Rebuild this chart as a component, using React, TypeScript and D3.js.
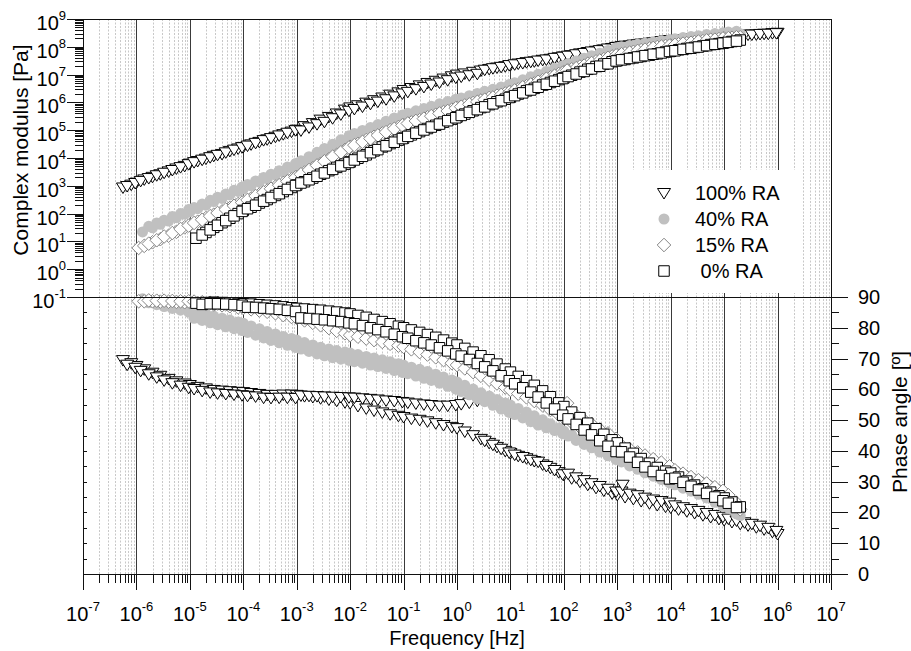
import React, { useEffect, useRef } from 'react';
import * as d3 from 'd3';

// legend order
const seriesLabels = ['100% RA', '40% RA', '15% RA', ' 0% RA'];

// ---- 100% RA (open triangles) ----
const freq100 = [
  5.6e-7, 8e-7,
  1e-6, 1.4e-6, 2e-6, 2.8e-6, 4e-6, 5.6e-6, 8e-6,
  1e-5, 1.4e-5, 2e-5, 2.8e-5, 4e-5, 5.6e-5, 8e-5,
  1e-4, 1.4e-4, 2e-4, 2.8e-4, 4e-4, 5.6e-4, 8e-4,
  1e-3, 1.4e-3, 2e-3, 2.8e-3, 4e-3, 5.6e-3, 8e-3,
  1e-2, 1.4e-2, 2e-2, 2.8e-2, 4e-2, 5.6e-2, 8e-2,
  0.1, 0.14, 0.2, 0.28, 0.4, 0.56, 0.8,
  1, 1.4, 2, 2.8, 4, 5.6, 8,
  10, 14, 20, 28, 40, 56, 80,
  100, 140, 200, 280, 400, 560, 800,
  1e3, 1.4e3, 2e3, 2.8e3, 4e3, 5.6e3, 8e3,
  1e4, 1.4e4, 2e4, 2.8e4, 4e4, 5.6e4, 8e4,
  1e5, 1.4e5, 2e5, 2.8e5, 4e5, 5.6e5, 8e5,
  1e6,
];
const modulus100 = [
  8.7e2, 1.1e3,
  1.3e3, 1.7e3, 2.1e3, 2.6e3, 3.3e3, 4.2e3, 5.2e3,
  6.3e3, 7.8e3, 9.5e3, 1.2e4, 1.4e4, 1.8e4, 2.2e4,
  2.5e4, 3.1e4, 3.8e4, 4.7e4, 5.8e4, 7.2e4, 8.9e4,
  1.05e5, 1.4e5, 1.8e5, 2.4e5, 3.0e5, 4.0e5, 5.5e5,
  6.6e5, 7.9e5, 9.8e5, 1.2e6, 1.5e6, 1.9e6, 2.3e6,
  2.8e6, 3.3e6, 4.1e6, 5.0e6, 6.0e6, 7.2e6, 8.7e6,
  1.0e7, 1.1e7, 1.26e7, 1.4e7, 1.6e7, 1.8e7, 2.0e7,
  2.2e7, 2.5e7, 2.8e7, 3.0e7, 3.4e7, 3.7e7, 4.2e7,
  4.5e7, 5.0e7, 5.8e7, 6.5e7, 7.2e7, 8.1e7, 9.1e7,
  1.0e8, 1.1e8, 1.2e8, 1.3e8, 1.4e8, 1.5e8, 1.7e8,
  1.75e8, 1.8e8, 1.95e8, 2.0e8, 2.1e8, 2.2e8, 2.3e8,
  2.45e8, 2.5e8, 2.6e8, 2.75e8, 2.8e8, 2.95e8, 3.1e8,
  3.2e8,
];
const phase100 = [
  69.5, 68.5,
  67.6, 66.5, 65.4, 64.4, 63.4, 62.6, 61.9,
  61.4, 60.8, 60.3, 59.8, 59.6, 59.4, 59.2,
  59.1, 58.8, 58.5, 58.2, 58.2, 58.3, 58.3,
  58.2, 57.8, 57.5, 57.1, 56.7, 56.3, 55.8,
  55.5, 54.6, 53.8, 53.1, 52.5, 51.9, 51.4,
  51.0, 50.5, 50.1, 49.6, 49.0, 48.4, 47.8,
  47.4, 46.3, 45.1, 43.9, 42.6, 41.3, 40.0,
  39.3, 38.4, 37.6, 36.7, 35.6, 34.5, 33.1,
  32.2, 31.1, 30.0, 29.0, 28.0, 27.1, 26.2,
  25.7, 25.0, 24.4, 23.7, 23.0, 22.4, 21.9,
  21.6, 21.0, 20.4, 19.8, 19.1, 18.5, 17.9,
  17.5, 16.9, 16.3, 15.8, 15.2, 14.5, 13.7,
  13.0,
];
// second, overlapping isotherm set of 100% RA
const freq100b = [
  6.7e-7, 9.5e-7,
  1.2e-6, 1.7e-6, 2.4e-6, 3.3e-6, 4.7e-6, 6.7e-6, 9.5e-6,
  1.2e-5, 1.7e-5, 2.4e-5, 3.3e-5, 4.7e-5, 6.7e-5, 9.5e-5,
  1.2e-4, 1.7e-4, 2.4e-4, 3.3e-4, 4.7e-4, 6.7e-4, 9.5e-4,
  1.2e-3, 1.7e-3, 2.4e-3, 3.3e-3, 4.7e-3, 6.7e-3, 9.5e-3,
  1.2e-2, 1.7e-2, 2.4e-2, 3.3e-2, 4.7e-2, 6.7e-2, 9.5e-2,
  0.12, 0.17, 0.24, 0.33, 0.47, 0.67, 0.95,
  1.2, 1.7, 2.4, 3.3, 4.7, 6.7, 9.5,
  12, 17, 24, 33, 47, 67, 95,
  120, 170, 240, 330, 470, 670, 950,
  1.2e3, 1.7e3, 2.4e3, 3.3e3, 4.7e3, 6.7e3, 9.5e3,
  1.2e4, 1.7e4, 2.4e4, 3.3e4, 4.7e4, 6.7e4, 9.5e4,
  1.2e5, 1.7e5, 2.4e5, 3.3e5, 4.7e5, 6.7e5, 9.5e5,
  1.26e3,
];
const modulus100b = [
  9.8e2, 1.26e3,
  1.5e3, 1.9e3, 2.4e3, 2.95e3, 3.7e3, 4.7e3, 6.0e3,
  7.1e3, 8.7e3, 1.07e4, 1.3e4, 1.6e4, 2.0e4, 2.45e4,
  2.8e4, 3.5e4, 4.4e4, 5.2e4, 6.5e4, 8.1e4, 1.0e5,
  9.8e4, 1.26e5, 1.65e5, 2.0e5, 2.7e5, 3.7e5, 5.0e5,
  5.8e5, 7.1e5, 8.9e5, 1.07e6, 1.3e6, 1.65e6, 2.1e6,
  2.4e6, 3.0e6, 3.6e6, 4.4e6, 5.2e6, 6.3e6, 7.8e6,
  8.5e6, 9.5e6, 1.07e7, 1.5e7, 1.7e7, 1.9e7, 2.2e7,
  2.35e7, 2.6e7, 2.9e7, 3.2e7, 3.5e7, 4.0e7, 4.4e7,
  4.8e7, 5.4e7, 6.0e7, 6.8e7, 7.6e7, 8.7e7, 9.8e7,
  1.05e8, 1.12e8, 1.23e8, 1.3e8, 1.45e8, 1.6e8, 1.7e8,
  1.78e8, 1.86e8, 2.0e8, 2.1e8, 2.2e8, 2.3e8, 2.4e8,
  2.5e8, 2.6e8, 2.7e8, 2.75e8, 2.9e8, 2.95e8, 3.1e8,
  1.05e8,
];
const phase100b = [
  68.0, 67.0,
  66.0, 64.9, 63.9, 62.9, 62.0, 61.2, 60.5,
  60.1, 59.5, 59.0, 58.7, 58.5, 58.3, 58.1,
  57.9, 57.7, 57.3, 57.2, 57.3, 57.3, 57.2,
  58.0, 57.9, 57.8, 57.7, 57.6, 57.5, 57.4,
  57.3, 57.1, 56.9, 56.7, 56.4, 56.2, 55.9,
  55.7, 55.4, 55.1, 54.9, 54.7, 54.7, 54.9,
  55.2, 55.7, 56.3, 43.3, 42.0, 40.7, 39.5,
  38.8, 38.0, 37.1, 36.5, 35.1, 33.8, 32.4,
  32.6, 31.4, 30.5, 29.5, 28.6, 27.7, 26.8,
  26.8, 26.1, 25.6, 24.8, 24.2, 23.7, 23.2,
  22.3, 21.7, 21.1, 20.5, 19.8, 19.2, 18.6,
  18.0, 17.4, 16.8, 16.3, 15.7, 15.0, 14.0,
  29.0,
];

// ---- 40% RA (filled grey circles) ----
const freq40 = [
  1.3e-6, 2e-6, 2.8e-6, 4e-6, 5.6e-6, 8e-6,
  1e-5, 1.4e-5, 2e-5, 2.8e-5, 4e-5, 5.6e-5, 8e-5,
  1e-4, 1.4e-4, 2e-4, 2.8e-4, 4e-4, 5.6e-4, 8e-4,
  1e-3, 1.4e-3, 2e-3, 2.8e-3, 4e-3, 5.6e-3, 8e-3,
  1e-2, 1.4e-2, 2e-2, 2.8e-2, 4e-2, 5.6e-2, 8e-2,
  0.1, 0.14, 0.2, 0.28, 0.4, 0.56, 0.8,
  1, 1.4, 2, 2.8, 4, 5.6, 8,
  10, 14, 20, 28, 40, 56, 80,
  100, 140, 200, 280, 400, 560, 800,
  1e3, 1.4e3, 2e3, 2.8e3, 4e3, 5.6e3, 8e3,
  1e4, 1.4e4, 2e4, 2.8e4, 4e4, 5.6e4, 8e4,
  1e5, 1.4e5, 2e5,
];
const modulus40 = [
  22, 31, 41, 54, 71, 95,
  1.15e2, 1.5e2, 2.0e2, 2.7e2, 3.5e2, 4.7e2, 6.3e2,
  7.6e2, 1.0e3, 1.35e3, 1.8e3, 2.5e3, 3.2e3, 4.4e3,
  5.2e3, 7.2e3, 1.0e4, 1.4e4, 2.0e4, 2.9e4, 4.2e4,
  5.2e4, 6.8e4, 8.9e4, 1.15e5, 1.5e5, 1.95e5, 2.5e5,
  3.0e5, 3.5e5, 4.4e5, 5.2e5, 6.5e5, 7.8e5, 9.3e5,
  1.05e6, 1.25e6, 1.5e6, 1.8e6, 2.1e6, 2.6e6, 3.2e6,
  3.5e6, 4.5e6, 5.8e6, 7.2e6, 9.3e6, 1.17e7, 1.5e7,
  1.8e7, 2.2e7, 2.9e7, 3.6e7, 4.6e7, 5.6e7, 6.8e7,
  7.6e7, 8.3e7, 9.3e7, 1.02e8, 1.15e8, 1.26e8, 1.4e8,
  1.5e8, 1.6e8, 1.8e8, 1.95e8, 2.1e8, 2.3e8, 2.5e8,
  2.6e8, 2.8e8, 2.95e8,
];
const phase40 = [
  89.4, 88.8, 88.2, 87.6, 87.0, 86.4,
  86.0, 85.3, 84.5, 83.8, 83.1, 82.5, 81.9,
  81.5, 80.6, 79.7, 78.8, 78.0, 77.2, 76.5,
  76.0, 75.2, 74.4, 73.7, 73.1, 72.6, 72.1,
  71.8, 71.3, 70.7, 70.2, 69.6, 69.0, 68.3,
  67.9, 67.2, 66.5, 65.8, 64.9, 64.0, 63.0,
  62.4, 61.3, 60.1, 58.9, 57.8, 56.7, 55.6,
  54.9, 53.8, 52.6, 51.4, 50.1, 48.8, 47.4,
  46.5, 45.2, 43.8, 42.5, 41.2, 40.0, 38.8,
  38.0, 36.8, 35.6, 34.4, 33.3, 32.2, 31.2,
  30.5, 29.5, 28.4, 27.4, 26.3, 25.0, 23.6,
  22.8, 21.0, 19.0,
];
const freq40b = [
  1.7e-6, 2.4e-6, 3.3e-6, 4.7e-6, 6.7e-6, 9.5e-6,
  1.2e-5, 1.7e-5, 2.4e-5, 3.3e-5, 4.7e-5, 6.7e-5, 9.5e-5,
  1.2e-4, 1.7e-4, 2.4e-4, 3.3e-4, 4.7e-4, 6.7e-4, 9.5e-4,
  1.2e-3, 1.7e-3, 2.4e-3, 3.3e-3, 4.7e-3, 6.7e-3, 9.5e-3,
  1.2e-2, 1.7e-2, 2.4e-2, 3.3e-2, 4.7e-2, 6.7e-2, 9.5e-2,
  0.12, 0.17, 0.24, 0.33, 0.47, 0.67, 0.95,
  1.2, 1.7, 2.4, 3.3, 4.7, 6.7, 9.5,
  12, 17, 24, 33, 47, 67, 95,
  120, 170, 240, 330, 470, 670, 950,
  1.2e3, 1.7e3, 2.4e3, 3.3e3, 4.7e3, 6.7e3, 9.5e3,
  1.2e4, 1.7e4, 2.4e4, 3.3e4, 4.7e4, 6.7e4, 9.5e4,
  1.2e5, 1.7e5,
];
const modulus40b = [
  35, 46, 58, 78, 1.0e2, 1.4e2,
  1.65e2, 2.2e2, 3.0e2, 3.9e2, 5.1e2, 6.9e2, 9.1e2,
  1.12e3, 1.5e3, 2.0e3, 2.6e3, 3.5e3, 4.7e3, 6.3e3,
  7.9e3, 1.12e4, 1.6e4, 2.2e4, 3.1e4, 4.5e4, 6.3e4,
  7.6e4, 9.8e4, 1.26e5, 1.6e5, 2.1e5, 2.75e5, 3.5e5,
  4.1e5, 5.0e5, 6.0e5, 7.2e5, 8.9e5, 1.07e6, 1.3e6,
  1.45e6, 1.75e6, 2.1e6, 2.5e6, 3.0e6, 3.6e6, 4.4e6,
  5.1e6, 6.5e6, 8.3e6, 1.02e7, 1.3e7, 1.7e7, 2.1e7,
  2.5e7, 3.1e7, 3.9e7, 4.8e7, 5.9e7, 7.4e7, 9.3e7,
  1.0e8, 1.12e8, 1.23e8, 1.35e8, 1.48e8, 1.66e8, 1.8e8,
  1.95e8, 2.15e8, 2.35e8, 2.5e8, 2.75e8, 3.0e8, 3.2e8,
  3.4e8, 3.6e8,
];
const phase40b = [
  88.1, 87.5, 86.9, 86.3, 85.7, 85.1,
  83.1, 82.4, 81.6, 81.0, 80.3, 79.7, 79.1,
  78.5, 77.6, 76.7, 75.9, 75.1, 74.3, 73.6,
  73.1, 72.3, 71.5, 70.9, 70.3, 69.8, 69.4,
  69.0, 68.5, 67.9, 67.4, 66.8, 66.1, 65.5,
  65.1, 64.3, 63.6, 62.9, 62.0, 61.0, 60.1,
  59.3, 58.2, 57.0, 56.0, 54.8, 53.6, 52.5,
  51.8, 50.7, 49.5, 48.4, 47.5, 46.6, 45.6,
  44.8, 43.4, 42.1, 41.0, 39.6, 38.4, 37.2,
  36.4, 35.1, 34.0, 32.9, 31.8, 30.7, 29.6,
  29.0, 27.9, 26.9, 25.9, 24.7, 23.3, 22.0,
  21.4, 19.5,
];

// ---- 15% RA (open diamonds) ----
const freq15 = [
  1.1e-6, 1.4e-6, 2e-6, 2.8e-6, 4e-6, 5.6e-6, 8e-6,
  1e-5, 1.4e-5, 2e-5, 2.8e-5, 4e-5, 5.6e-5, 8e-5,
  1e-4, 1.4e-4, 2e-4, 2.8e-4, 4e-4, 5.6e-4, 8e-4,
  1e-3, 1.4e-3, 2e-3, 2.8e-3, 4e-3, 5.6e-3, 8e-3,
  1e-2, 1.4e-2, 2e-2, 2.8e-2, 4e-2, 5.6e-2, 8e-2,
  0.1, 0.14, 0.2, 0.28, 0.4, 0.56, 0.8,
  1, 1.4, 2, 2.8, 4, 5.6, 8,
  10, 14, 20, 28, 40, 56, 80,
  100, 140, 200, 280, 400, 560, 800,
  1e3, 1.4e3, 2e3, 2.8e3, 4e3, 5.6e3, 8e3,
  1e4, 1.4e4, 2e4, 2.8e4, 4e4, 5.6e4, 8e4,
  1e5, 1.4e5, 2e5,
];
const modulus15 = [
  5.8, 6.9, 9.3, 12, 16, 22, 32,
  39, 51, 69, 91, 1.2e2, 1.6e2, 2.2e2,
  2.6e2, 3.5e2, 4.9e2, 6.8e2, 9.3e2, 1.26e3, 1.7e3,
  2.1e3, 3.0e3, 4.3e3, 6.2e3, 9.1e3, 1.3e4, 1.95e4,
  2.5e4, 3.2e4, 4.4e4, 5.8e4, 7.6e4, 1.0e5, 1.3e5,
  1.55e5, 1.9e5, 2.3e5, 2.9e5, 3.6e5, 4.5e5, 5.5e5,
  6.3e5, 7.8e5, 9.5e5, 1.17e6, 1.45e6, 1.75e6, 2.1e6,
  2.3e6, 2.95e6, 3.8e6, 4.8e6, 6.2e6, 7.9e6, 1.05e7,
  1.23e7, 1.55e7, 1.95e7, 2.45e7, 3.0e7, 3.6e7, 4.5e7,
  5.0e7, 5.8e7, 6.6e7, 7.6e7, 8.7e7, 9.8e7, 1.07e8,
  1.12e8, 1.23e8, 1.35e8, 1.48e8, 1.6e8, 1.8e8, 1.9e8,
  2.0e8, 2.1e8, 2.2e8,
];
const phase15 = [
  88.6, 88.6, 88.6, 88.5, 88.5, 88.4, 88.3,
  88.3, 88.1, 87.8, 87.6, 87.3, 87.0, 86.6,
  86.4, 86.0, 85.6, 85.2, 84.7, 84.1, 83.5,
  83.2, 82.4, 81.6, 80.8, 79.9, 79.0, 78.2,
  77.6, 77.1, 76.5, 76.0, 75.4, 74.8, 74.2,
  73.8, 73.0, 72.1, 71.3, 70.4, 69.5, 68.5,
  67.9, 66.8, 65.6, 64.4, 63.1, 61.9, 60.6,
  59.8, 58.6, 57.4, 56.2, 54.8, 53.3, 51.8,
  50.8, 49.3, 47.7, 46.1, 44.6, 43.4, 42.1,
  41.3, 40.2, 39.0, 37.9, 36.8, 35.7, 34.6,
  33.8, 32.7, 31.6, 30.5, 29.4, 28.3, 27.1,
  26.3, 24.0, 21.0,
];
const freq15b = [
  1.7e-6, 2.4e-6, 3.3e-6, 4.7e-6, 6.7e-6, 9.5e-6,
  1.2e-5, 1.7e-5, 2.4e-5, 3.3e-5, 4.7e-5, 6.7e-5, 9.5e-5,
  1.2e-4, 1.7e-4, 2.4e-4, 3.3e-4, 4.7e-4, 6.7e-4, 9.5e-4,
  1.2e-3, 1.7e-3, 2.4e-3, 3.3e-3, 4.7e-3, 6.7e-3, 9.5e-3,
  1.2e-2, 1.7e-2, 2.4e-2, 3.3e-2, 4.7e-2, 6.7e-2, 9.5e-2,
  0.12, 0.17, 0.24, 0.33, 0.47, 0.67, 0.95,
  1.2, 1.7, 2.4, 3.3, 4.7, 6.7, 9.5,
  12, 17, 24, 33, 47, 67, 95,
  120, 170, 240, 330, 470, 670, 950,
  1.2e3, 1.7e3, 2.4e3, 3.3e3, 4.7e3, 6.7e3, 9.5e3,
  1.2e4, 1.7e4, 2.4e4, 3.3e4, 4.7e4, 6.7e4, 9.5e4,
  1.2e5, 1.7e5,
  115,
];
const modulus15b = [
  8.3, 11, 15, 20, 28, 37,
  46, 60, 81, 1.05e2, 1.4e2, 1.9e2, 2.5e2,
  3.1e2, 4.3e2, 5.8e2, 7.8e2, 1.05e3, 1.45e3, 2.0e3,
  2.6e3, 3.7e3, 5.4e3, 7.6e3, 1.12e4, 1.6e4, 2.4e4,
  2.9e4, 3.8e4, 5.0e4, 6.5e4, 8.5e4, 1.12e5, 1.5e5,
  1.75e5, 2.15e5, 2.6e5, 3.2e5, 4.0e5, 4.9e5, 6.2e5,
  7.0e5, 8.5e5, 1.05e6, 1.25e6, 1.5e6, 1.85e6, 2.3e6,
  2.7e6, 3.5e6, 4.4e6, 5.5e6, 7.1e6, 9.1e6, 1.17e7,
  1.4e7, 1.7e7, 2.1e7, 2.6e7, 3.2e7, 4.0e7, 4.9e7,
  5.4e7, 6.2e7, 7.1e7, 7.9e7, 9.1e7, 1.02e8, 1.1e8,
  1.17e8, 1.3e8, 1.4e8, 1.55e8, 1.7e8, 1.8e8, 2.0e8,
  2.05e8, 2.2e8,
  1.4e7,
];
const phase15b = [
  88.9, 88.8, 88.8, 88.7, 88.6, 88.6,
  88.5, 88.3, 88.1, 87.9, 87.6, 87.4, 87.0,
  87.0, 86.8, 86.6, 86.3, 86.0, 85.7, 85.5,
  85.8, 85.0, 84.2, 83.4, 82.5, 81.6, 80.7,
  80.4, 79.8, 79.2, 78.7, 78.1, 77.5, 76.9,
  76.4, 75.5, 74.7, 73.9, 73.0, 72.0, 71.3,
  70.3, 69.2, 68.0, 66.9, 65.5, 64.3, 63.0,
  62.2, 61.0, 59.8, 58.6, 57.1, 55.6, 54.0,
  53.0, 51.5, 49.9, 48.7, 47.0, 45.7, 43.9,
  41.7, 40.6, 39.5, 38.5, 37.3, 36.2, 35.0,
  33.7, 32.6, 31.5, 30.5, 29.4, 28.2, 27.0,
  25.6, 23.1,
  55.5,
];

// ---- 0% RA (open squares) ----
const freq0 = [
  1.3e-5, 2e-5, 2.8e-5, 4e-5, 5.6e-5, 8e-5,
  1e-4, 1.4e-4, 2e-4, 2.8e-4, 4e-4, 5.6e-4, 8e-4,
  1e-3, 1.4e-3, 2e-3, 2.8e-3, 4e-3, 5.6e-3, 8e-3,
  1e-2, 1.4e-2, 2e-2, 2.8e-2, 4e-2, 5.6e-2, 8e-2,
  0.1, 0.14, 0.2, 0.28, 0.4, 0.56, 0.8,
  1, 1.4, 2, 2.8, 4, 5.6, 8,
  10, 14, 20, 28, 40, 56, 80,
  100, 140, 200, 280, 400, 560, 800,
  1e3, 1.4e3, 2e3, 2.8e3, 4e3, 5.6e3, 8e3,
  1e4, 1.4e4, 2e4, 2.8e4, 4e4, 5.6e4, 8e4,
  1e5, 1.4e5, 2e5,
];
const modulus0 = [
  13, 21, 32, 47, 68, 100,
  1.3e2, 1.7e2, 2.4e2, 3.2e2, 4.5e2, 6.2e2, 8.7e2,
  1.07e3, 1.4e3, 1.9e3, 2.6e3, 3.5e3, 4.6e3, 6.0e3,
  7.2e3, 9.8e3, 1.3e4, 1.8e4, 2.5e4, 3.3e4, 4.4e4,
  5.2e4, 6.8e4, 8.9e4, 1.15e5, 1.5e5, 1.95e5, 2.5e5,
  3.0e5, 3.8e5, 5.0e5, 6.5e5, 8.3e5, 1.05e6, 1.3e6,
  1.55e6, 2.0e6, 2.6e6, 3.2e6, 4.2e6, 5.2e6, 6.6e6,
  7.6e6, 9.5e6, 1.23e7, 1.55e7, 1.95e7, 2.4e7, 2.9e7,
  3.2e7, 3.5e7, 4.0e7, 4.5e7, 5.0e7, 5.6e7, 6.5e7,
  6.9e7, 7.8e7, 8.7e7, 9.5e7, 1.07e8, 1.2e8, 1.3e8,
  1.4e8, 1.55e8, 1.75e8,
];
const phase0 = [
  88.0, 88.2, 88.3, 88.2, 88.1, 87.9,
  87.8, 87.7, 87.5, 87.3, 87.1, 86.8, 86.5,
  86.3, 86.1, 85.9, 85.7, 85.4, 85.1, 84.8,
  84.5, 84.0, 83.4, 82.7, 82.0, 81.3, 80.5,
  80.0, 79.3, 78.5, 77.8, 76.9, 76.0, 75.0,
  74.4, 73.3, 72.1, 70.9, 69.6, 68.2, 66.6,
  65.6, 64.2, 62.8, 61.3, 59.5, 57.6, 55.6,
  54.4, 52.6, 50.8, 49.0, 47.2, 45.4, 43.6,
  42.6, 40.9, 39.2, 37.5, 36.0, 34.6, 33.4,
  32.8, 31.5, 30.2, 28.9, 27.7, 26.6, 25.4,
  24.7, 23.4, 21.8,
];
const freq0b = [
  1.7e-5, 2.4e-5, 3.3e-5, 4.7e-5, 6.7e-5, 9.5e-5,
  1.2e-4, 1.7e-4, 2.4e-4, 3.3e-4, 4.7e-4, 6.7e-4, 9.5e-4,
  1.2e-3, 1.7e-3, 2.4e-3, 3.3e-3, 4.7e-3, 6.7e-3, 9.5e-3,
  1.2e-2, 1.7e-2, 2.4e-2, 3.3e-2, 4.7e-2, 6.7e-2, 9.5e-2,
  0.12, 0.17, 0.24, 0.33, 0.47, 0.67, 0.95,
  1.2, 1.7, 2.4, 3.3, 4.7, 6.7, 9.5,
  12, 17, 24, 33, 47, 67, 95,
  120, 170, 240, 330, 470, 670, 950,
  1.2e3, 1.7e3, 2.4e3, 3.3e3, 4.7e3, 6.7e3, 9.5e3,
  1.2e4, 1.7e4, 2.4e4, 3.3e4, 4.7e4, 6.7e4, 9.5e4,
  1.2e5, 1.7e5,
];
const modulus0b = [
  17, 26, 38, 56, 83, 1.2e2,
  1.5e2, 2.0e2, 2.8e2, 3.8e2, 5.2e2, 7.4e2, 1.02e3,
  1.26e3, 1.65e3, 2.2e3, 2.9e3, 3.9e3, 5.2e3, 6.9e3,
  8.5e3, 1.15e4, 1.55e4, 2.0e4, 2.75e4, 3.7e4, 5.0e4,
  6.0e4, 7.8e4, 1.02e5, 1.3e5, 1.66e5, 2.2e5, 2.8e5,
  3.4e5, 4.4e5, 5.5e5, 6.9e5, 8.9e5, 1.15e6, 1.5e6,
  1.75e6, 2.2e6, 2.8e6, 3.5e6, 4.5e6, 5.8e6, 7.2e6,
  8.5e6, 1.05e7, 1.3e7, 1.6e7, 2.0e7, 2.45e7, 3.1e7,
  3.4e7, 3.8e7, 4.3e7, 4.8e7, 5.4e7, 6.0e7, 6.8e7,
  7.2e7, 8.1e7, 8.9e7, 9.8e7, 1.1e8, 1.23e8, 1.35e8,
  1.45e8, 1.6e8,
];
const phase0b = [
  87.6, 87.8, 87.8, 87.7, 87.5, 87.3,
  86.7, 86.6, 86.4, 86.2, 86.0, 85.7, 85.3,
  83.2, 83.0, 82.8, 82.6, 82.3, 82.0, 81.6,
  81.3, 80.7, 80.0, 79.4, 78.7, 77.9, 77.1,
  76.6, 75.8, 75.1, 74.4, 73.5, 72.5, 71.5,
  70.8, 69.7, 68.4, 67.3, 66.0, 64.4, 62.8,
  61.8, 60.5, 59.1, 57.5, 55.6, 53.6, 51.6,
  50.4, 48.6, 46.8, 45.2, 43.3, 41.5, 39.8,
  39.7, 38.0, 36.3, 34.8, 33.3, 32.0, 30.9,
  31.1, 29.8, 28.5, 27.3, 26.2, 25.0, 23.8,
  23.0, 21.6,
];

const decades = d3.range(-7, 8);
const modDecades = d3.range(-1, 10);
const phaseTicks = d3.range(0, 91, 10);
const phaseMinor = d3.range(5, 90, 10);
const phaseInner = d3.range(5, 90, 5);

const FONT = "'Liberation Sans', Arial, Helvetica, sans-serif";

const markerPaths = {
  triangle: 'M-6.5,-4.5L6.5,-4.5L0,6Z',
  square: 'M-5.25,-5.25H5.25V5.25H-5.25Z',
  diamond: 'M0,-6.8L6.8,0L0,6.8L-6.8,0Z',
};

function zip(f: number[], g: number[], p: number[]) {
  return f.map((v, i) => ({ f: v, g: g[i], p: p[i] }));
}

const series = [
  { label: seriesLabels[0], kind: 'triangle', stroke: '#000', fill: '#fff',
    pts: zip(freq100, modulus100, phase100).concat(zip(freq100b, modulus100b, phase100b)) },
  { label: seriesLabels[1], kind: 'circle', stroke: 'none', fill: '#c0c0c0',
    pts: zip(freq40, modulus40, phase40).concat(zip(freq40b, modulus40b, phase40b)) },
  { label: seriesLabels[2], kind: 'diamond', stroke: '#858585', fill: '#fff',
    pts: zip(freq15, modulus15, phase15).concat(zip(freq15b, modulus15b, phase15b)) },
  { label: seriesLabels[3], kind: 'square', stroke: '#000', fill: '#fff',
    pts: zip(freq0, modulus0, phase0).concat(zip(freq0b, modulus0b, phase0b)) },
];

function drawMarker(sel: any, s: any, cx: number, cy: number) {
  if (s.kind === 'circle') {
    sel.append('circle').attr('cx', cx).attr('cy', cy).attr('r', 5.5)
      .attr('fill', s.fill);
  } else {
    sel.append('path').attr('d', (markerPaths as any)[s.kind])
      .attr('transform', `translate(${cx},${cy})`)
      .attr('fill', s.fill).attr('stroke', s.stroke).attr('stroke-width', 1);
  }
}

function powLabel(sel: any, exp: number) {
  sel.append('tspan').attr('font-size', 20).text('10');
  sel.append('tspan').attr('font-size', 13).attr('dy', -10).text(String(exp));
}

export default function App() {
  const ref = useRef<SVGSVGElement>(null);

  useEffect(() => {
    const svg = d3.select(ref.current);
    svg.selectAll('*').remove();

    const left = 83, right = 831, top = 19, mid = 297, bottom = 574;
    const x = d3.scaleLog().domain([1e-7, 1e7]).range([left, right]);
    const yMod = d3.scaleLog().domain([1e-1, 1e9]).range([mid, top]);
    const yPh = d3.scaleLinear().domain([0, 90]).range([bottom, mid]);
    const px = (v: number) => Math.round(v) + 0.5;

    svg.append('rect').attr('width', 911).attr('height', 651).attr('fill', '#fff');

    // vertical grid: dotted minor, solid major
    const minorX = d3.range(-7, 7).flatMap((k) => d3.range(2, 10).map((m) => m * Math.pow(10, k)));
    const grid = svg.append('g');
    grid.selectAll('line.minor').data(minorX).enter().append('line')
      .attr('x1', (d) => px(x(d))).attr('x2', (d) => px(x(d)))
      .attr('y1', top).attr('y2', bottom)
      .attr('stroke', '#c8c8c8').attr('stroke-width', 1).attr('stroke-dasharray', '2,1.5');
    grid.selectAll('line.major').data(decades.slice(1, -1)).enter().append('line')
      .attr('x1', (d) => px(x(Math.pow(10, d)))).attr('x2', (d) => px(x(Math.pow(10, d))))
      .attr('y1', top).attr('y2', bottom)
      .attr('stroke', '#3a3a3a').attr('stroke-width', 1);

    // legend background
    svg.append('rect').attr('x', 633).attr('y', 170).attr('width', 169).attr('height', 123)
      .attr('fill', '#fff');

    // data
    const marks = svg.append('g');
    series.forEach((s) => {
      s.pts.forEach((d) => {
        drawMarker(marks, s, x(d.f), yMod(d.g));
        drawMarker(marks, s, x(d.f), yPh(d.p));
      });
    });

    // frame and axes
    const ax = svg.append('g').attr('stroke', '#111').attr('stroke-width', 1).attr('fill', 'none');
    const hline = (x1: number, x2: number, y: number) =>
      ax.append('line').attr('x1', x1).attr('x2', x2).attr('y1', px(y)).attr('y2', px(y));
    const vline = (xx: number, y1: number, y2: number) =>
      ax.append('line').attr('x1', px(xx)).attr('x2', px(xx)).attr('y1', y1).attr('y2', y2);

    hline(left, right + 1, top);
    hline(left, right + 1, bottom);
    hline(67, 848, mid);
    vline(left, top, bottom + 16);
    vline(right, top, bottom + 16);

    modDecades.forEach((k) => hline(67, left, yMod(Math.pow(10, k))));
    modDecades.slice(0, -1).forEach((k) =>
      d3.range(2, 10).forEach((m) => hline(75, left, yMod(m * Math.pow(10, k)))));

    decades.forEach((k) => vline(x(Math.pow(10, k)), bottom, bottom + 16));
    minorX.forEach((v) => vline(x(v), bottom, bottom + 9));

    phaseTicks.forEach((v) => hline(right, right + 17, yPh(v)));
    phaseMinor.forEach((v) => hline(right, right + 8, yPh(v)));
    phaseInner.forEach((v) => hline(left, left + 4, yPh(v)));

    // tick labels
    const txt = svg.append('g').attr('font-family', FONT).attr('fill', '#000');
    modDecades.forEach((k) => {
      const t = txt.append('text').attr('x', 66).attr('y', yMod(Math.pow(10, k)) + 11)
        .attr('text-anchor', 'end');
      powLabel(t, k);
    });
    decades.forEach((k) => {
      const t = txt.append('text').attr('x', x(Math.pow(10, k))).attr('y', 621)
        .attr('text-anchor', 'middle');
      powLabel(t, k);
    });
    phaseTicks.forEach((v) => {
      txt.append('text').attr('x', 858).attr('y', yPh(v) + 7).attr('font-size', 20).text(String(v));
    });

    // axis titles
    txt.append('text').attr('transform', 'translate(28,150) rotate(-90)')
      .attr('text-anchor', 'middle').attr('font-size', 21).text('Complex modulus [Pa]');
    txt.append('text').attr('transform', 'translate(907,422) rotate(-90)')
      .attr('text-anchor', 'middle').attr('font-size', 21).text('Phase angle [º]');
    txt.append('text').attr('x', (left + right) / 2).attr('y', 645)
      .attr('text-anchor', 'middle').attr('font-size', 20).text('Frequency [Hz]');

    // legend
    const lg = svg.append('g');
    series.forEach((s, i) => {
      const cy = 193 + i * 26;
      drawMarker(lg, s, 664, cy);
      lg.append('text').attr('x', 695).attr('y', cy + 7).attr('font-family', FONT)
        .attr('font-size', 20).style('white-space', 'pre').text(s.label);
    });
  }, []);

  return (
    <svg ref={ref} width={911} height={651}
      style={{ position: 'absolute', left: 0, top: 0, display: 'block' }} />
  );
}
